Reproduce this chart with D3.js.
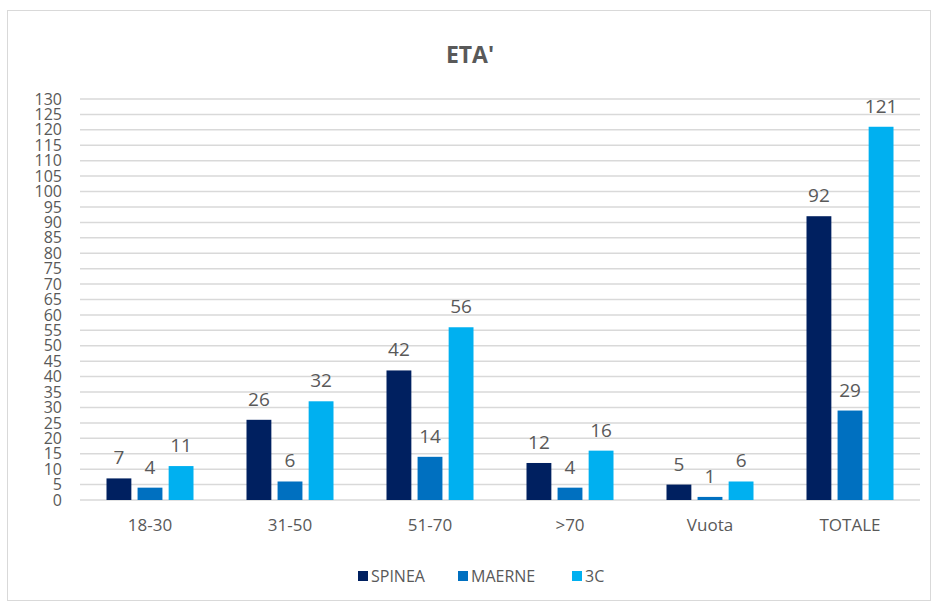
<!DOCTYPE html>
<html>
<head>
<meta charset="utf-8">
<script src="https://cdn.jsdelivr.net/npm/d3@7"></script>
<style>
  body { margin: 0; background: #fff; }
  text { font-family: "Open Sans", "Noto Sans", sans-serif; }
</style>
</head>
<body>
<div id="chart"></div>
<script>
const width = 932
const height = 603
const margin = { left : 80, right : 12, top : 99, bottom : 103 }

const categories = ["18-30", "31-50", "51-70", ">70", "Vuota", "TOTALE"]
const seriesNames = ["SPINEA", "MAERNE", "3C"]
const spinea = [7, 26, 42, 12, 5, 92]
const maerne = [4, 6, 14, 4, 1, 29]
const c3 = [11, 32, 56, 16, 6, 121]
const yTicks = d3.range(0, 131, 5)
const colors = ["#002060", "#0070C0", "#00B0F0"]

const series = [spinea, maerne, c3]
const data = categories.map((c, i) => ({
    cat : c,
    values : seriesNames.map((s, j) => ({ name : s, value : series[j][i] }))
}))

const svg = d3.select("#chart").append("svg").attr("width", width).attr("height", height)

// chart frame
svg.append("rect")
    .attr("x", 7.5).attr("y", 10.5)
    .attr("width", width - 9).attr("height", height - 13)
    .attr("fill", "white").attr("stroke", "#d9d9d9")

const innerW = width - margin.left - margin.right
const innerH = height - margin.top - margin.bottom

const elementGroup = svg.append("g")
    .attr("transform", `translate(${margin.left}, ${margin.top})`)

var x = d3.scaleBand().domain(categories).range([0, innerW])
var x1 = d3.scaleBand().domain(seriesNames).range([0, 87]).paddingInner(0.2)
var y = d3.scaleLinear().domain([0, 130]).range([innerH, 0])
var color = d3.scaleOrdinal().domain(seriesNames).range(colors)

// gridlines
elementGroup.selectAll("line.grid")
    .data(yTicks)
    .join("line")
        .attr("class", "grid")
        .attr("x1", 0).attr("x2", innerW)
        .attr("y1", d => y(d)).attr("y2", d => y(d))
        .attr("stroke", "#d9d9d9")
        .attr("stroke-width", 1.5)

// y axis labels (tightly packed, as in the original)
var axisY = d3.axisLeft(y).tickValues(yTicks).tickSize(0).tickPadding(18)
const yGroup = elementGroup.append("g").call(axisY)
yGroup.select(".domain").remove()
yGroup.selectAll("text")
    .attr("font-size", 16)
    .attr("fill", "#595959")
    .style("font-family", "'Open Sans', sans-serif")

// x axis labels
var axisX = d3.axisBottom(x).tickSize(0).tickPadding(19)
const xGroup = elementGroup.append("g")
    .attr("transform", `translate(0, ${innerH})`)
    .call(axisX)
xGroup.select(".domain").remove()
xGroup.selectAll("text")
    .attr("font-size", 17)
    .attr("fill", "#595959")
    .style("font-family", "'Open Sans', sans-serif")

const groups = elementGroup.selectAll("g.cat")
    .data(data)
    .join("g")
        .attr("class", "cat")
        .attr("transform", d => `translate(${x(d.cat) + x.bandwidth() / 2 - 43.5}, 0)`)

groups.selectAll("rect")
    .data(d => d.values)
    .join("rect")
        .attr("x", d => x1(d.name))
        .attr("y", d => y(d.value))
        .attr("width", x1.bandwidth())
        .attr("height", d => innerH - y(d.value))
        .attr("fill", d => color(d.name))

groups.selectAll("text")
    .data(d => d.values)
    .join("text")
        .text(d => d.value)
        .attr("x", d => x1(d.name) + x1.bandwidth() / 2)
        .attr("y", d => y(d.value) - 14)
        .attr("text-anchor", "middle")
        .attr("font-size", 19)
        .attr("fill", "#595959")

// title
svg.append("text")
    .text("ETA'")
    .attr("x", 470)
    .attr("y", 63)
    .attr("text-anchor", "middle")
    .attr("font-size", 23)
    .attr("font-weight", "bold")
    .attr("fill", "#595959")

// legend
const legendX = [358, 458, 572]
const legend = svg.selectAll("g.legend")
    .data(seriesNames)
    .join("g")
        .attr("class", "legend")
        .attr("transform", (d, i) => `translate(${legendX[i]}, 582)`)
legend.append("rect")
    .attr("x", 0).attr("y", -11)
    .attr("width", 10).attr("height", 10)
    .attr("fill", d => color(d))
legend.append("text")
    .text(d => d)
    .attr("x", 13)
    .attr("y", 0)
    .attr("font-size", 16)
    .attr("fill", "#595959")
</script>
</body>
</html>
